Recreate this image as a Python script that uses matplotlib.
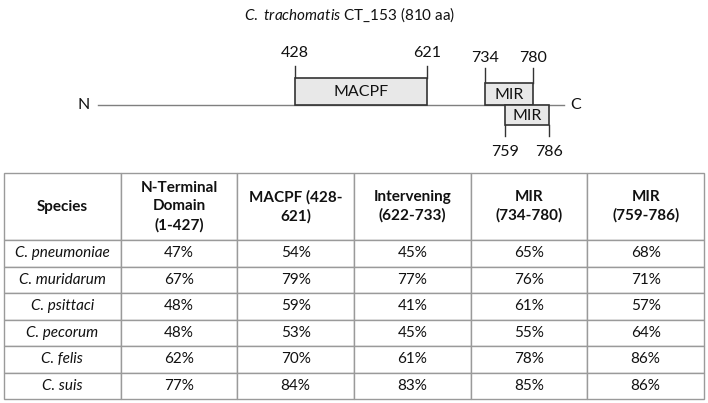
import matplotlib.pyplot as plt
import numpy as np

plt.rcParams['font.family'] = ['Lato', 'DejaVu Sans']
plt.rcParams['mathtext.fontset'] = 'custom'
plt.rcParams['mathtext.rm'] = 'Lato'
plt.rcParams['mathtext.it'] = 'Lato:italic'

# 结构域数据
protein_len = 810
domain_names = ['MACPF', 'MIR', 'MIR']
domain_start = [428, 734, 759]
domain_end = [621, 780, 786]

# 表格数据
species = ['C. pneumoniae', 'C. muridarum', 'C. psittaci', 'C. pecorum', 'C. felis', 'C. suis']
col_labels = ['Species', 'N-Terminal\nDomain\n(1-427)', 'MACPF (428-\n621)',
              'Intervening\n(622-733)', 'MIR\n(734-780)', 'MIR\n(759-786)']
n_term = [47, 67, 48, 48, 62, 77]
macpf = [54, 79, 59, 53, 70, 84]
intervening = [45, 77, 41, 45, 61, 83]
mir1 = [65, 76, 61, 55, 78, 85]
mir2 = [68, 71, 57, 64, 86, 86]

W, H = 708, 403
fig = plt.figure(figsize=(W / 100, H / 100), dpi=100)
ax = fig.add_axes([0, 0, 1, 1])
ax.set_xlim(0, W)
ax.set_ylim(H, 0)
ax.axis('off')

txt_col = '#111111'
fs = 11.5

# 残基编号 -> 画面横坐标（示意图不按比例）
res_anchor = [1, 428, 621, 734, 759, 780, 786, protein_len]
px_anchor = [98, 295, 427, 485, 505, 533, 549, 564]
to_x = lambda r: np.interp(r, res_anchor, px_anchor)

ax.text(350, 15, r'$\mathit{C.\ trachomatis}$ CT_153 (810 aa)', ha='center', va='center',
        fontsize=11, color=txt_col)

line_y = 105
ax.plot([to_x(1), to_x(protein_len)], [line_y, line_y], color='#7f7f7f', lw=1)
ax.text(84, line_y, 'N', ha='center', va='center', fontsize=fs, color=txt_col)
ax.text(576, line_y, 'C', ha='center', va='center', fontsize=fs, color=txt_col)

# 每个结构域：框的上下边、刻度线位置、标签位置
box_y = [(78, line_y), (83, line_y), (line_y, 125)]
tick_y = [(66, 78), (68, 83), (125, 136)]
lab_y = [53, 58, 152]
for name, s, e, (y0, y1), (t0, t1), ly in zip(domain_names, domain_start, domain_end,
                                             box_y, tick_y, lab_y):
    x0, x1 = to_x(s), to_x(e)
    ax.add_patch(plt.Rectangle((x0, y0), x1 - x0, y1 - y0, facecolor='#e8e8e8',
                               edgecolor='#333333', lw=1.2, zorder=3))
    ax.text((x0 + x1) / 2, (y0 + y1) / 2 + 1, name, ha='center', va='center',
            fontsize=fs, color=txt_col, zorder=4)
    for x, r in ((x0, s), (x1, e)):
        ax.plot([x, x], [t0, t1], color='#333333', lw=1)
        ax.text(x, ly, str(r), ha='center', va='center', fontsize=fs, color=txt_col)

# 表格
rows = [[sp] + [f'{v}%' for v in vals]
        for sp, vals in zip(species, zip(n_term, macpf, intervening, mir1, mir2))]
tb = ax.table(cellText=rows, colLabels=col_labels, cellLoc='center',
              bbox=[4 / W, 1 - 399 / H, 700 / W, 226 / H])
tb.auto_set_font_size(False)
for (r, c), cell in tb.get_celld().items():
    cell.set_edgecolor('#9a9a9a')
    cell.set_linewidth(1)
    cell.set_height(67 if r == 0 else 26.5)
    t = cell.get_text()
    t.set_fontsize(11)
    t.set_color(txt_col)
    if r == 0:
        t.set_fontweight('bold')
        t.set_linespacing(1.4)
    elif c == 0:
        t.set_fontstyle('italic')

fig.savefig('out.png', dpi=100)
